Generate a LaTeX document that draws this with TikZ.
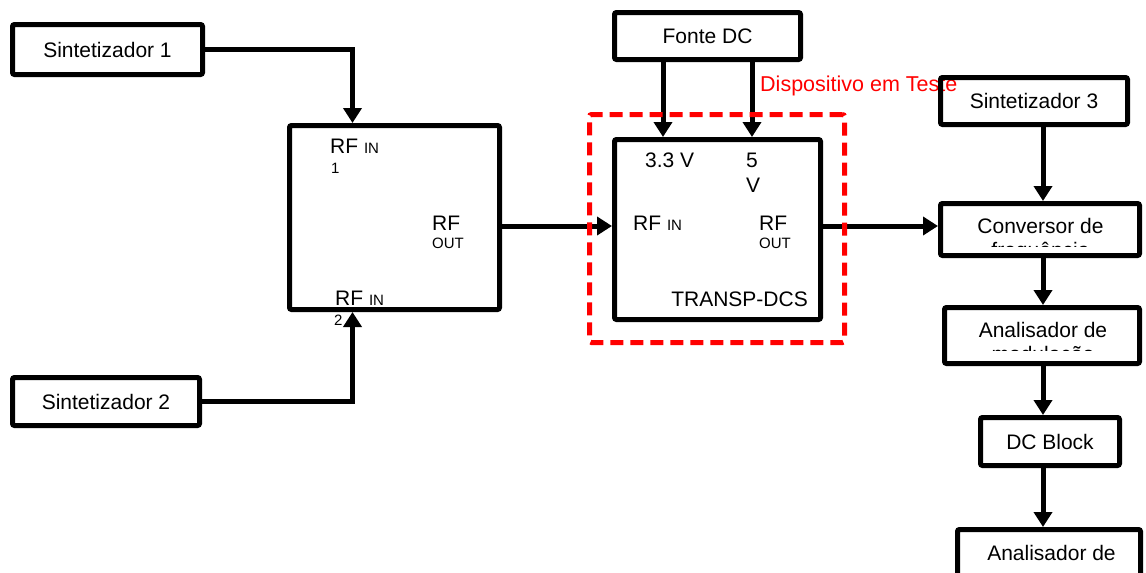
\documentclass[tikz,border=0pt]{standalone}
\usepackage{fontspec}
\setmainfont{Liberation Sans}
\definecolor{DutRed}{HTML}{FF0000}
\usetikzlibrary{arrows.meta, positioning, calc}
\tikzset{
  box/.style={draw=black, line width=5pt, rounded corners=2pt, inner sep=0pt, align=center, font=\fontsize{21}{24}\selectfont},
  lbl/.style={anchor=base west, inner sep=0pt, font=\fontsize{21}{24}\selectfont},
  sublbl/.style={lbl, font=\fontsize{15}{18}\selectfont},
  arr/.style={-{Triangle[length=15pt, width=18pt]}, line width=5pt, draw=black}
}
\newcommand{\subtxt}[1]{{\fontsize{15}{18}\selectfont #1}}

\begin{document}
\begin{tikzpicture}[x=1pt, y=-1pt,
  dutbox/.style={draw=DutRed, line width=5pt, dash pattern=on 13pt off 7pt, rounded corners=2pt, inner sep=0pt},
  dutlbl/.style={lbl, text=DutRed, font=\fontsize{21.5}{24}\selectfont}
]
\useasboundingbox (0,0) rectangle (1146,573);
\clip (0,0) rectangle (1146,573);

% sources and combiner
\node[box, minimum width=190pt, minimum height=50pt] (sint1) at (107.5,49.5) {Sintetizador 1};
\node[box, minimum width=187pt, minimum height=48pt] (sint2) at (106,401.5) {Sintetizador 2};
\node[box, minimum width=210pt, minimum height=184pt] (comb) at (394.5,217.5) {};
\node[lbl] (cin1) at (330,153) {RF \subtxt{IN}};
\node[sublbl] (cin1n) at (331,173) {1};
\node[lbl] (cout) at (432,230) {RF};
\node[sublbl] (coutn) at (432,248) {OUT};
\node[lbl] (cin2) at (335,305) {RF \subtxt{IN}};
\node[sublbl] (cin2n) at (334,325) {2};

% device under test
\node[box, minimum width=186pt, minimum height=47pt] (fonte) at (707.5,36) {Fonte DC};
\node[box, minimum width=206pt, minimum height=180pt] (dut) at (717.5,229.5) {};
\node[lbl] (v33l) at (645,167) {3.3 V};
\node[lbl] (v5l) at (746,167) {5};
\node[lbl] (v5u) at (746,192) {V};
\node[lbl] (din) at (633,230) {RF \subtxt{IN}};
\node[lbl] (dout) at (759,230) {RF};
\node[sublbl] (doutn) at (759,248) {OUT};
\node[lbl, anchor=base east] (dname) at (808,306) {TRANSP-DCS};
\node[dutlbl] (dutname) at (760,91) {Dispositivo em Teste};

% receive chain
\node[box, minimum width=187pt, minimum height=47pt] (sint3) at (1034,101) {Sintetizador 3};
\node[box, minimum width=199pt, minimum height=52pt] (conv) at (1040,229.5) {};
\node[box, minimum width=195pt, minimum height=56pt] (anmod) at (1042,335.5) {};
\node[box, minimum width=139pt, minimum height=48pt] (dcblk) at (1050,441.5) {DC Block};
\node[box, minimum width=183pt, minimum height=71pt] (anesp) at (1049,565) {};
\begin{scope}
  \clip (943,206) rectangle (1137,246);
  \node[lbl, anchor=base] (convt) at (1040.5,233) {Conversor de};
  \node[lbl, anchor=base] (convb) at (1040.5,257) {frequência};
\end{scope}
\begin{scope}
  \clip (947,310) rectangle (1137,350);
  \node[lbl, anchor=base] (anmodt) at (1043,337) {Analisador de};
  \node[lbl, anchor=base] (anmodb) at (1043,361) {modulação};
\end{scope}
\node[lbl, anchor=base] (anespt) at (1051.5,560) {Analisador de};

% connectors
\coordinate (cin) at (352.5,0);
\coordinate (rf) at (0,226);
\coordinate (v33) at (663,0);
\coordinate (v5) at (752,0);
\coordinate (col) at (1043,0);
\draw[arr] (sint1.east) -| (comb.north -| cin);
\draw[arr] (sint2.east) -| (comb.south -| cin);
\draw[arr] (comb.east |- rf) -- (dut.west |- rf);
\draw[arr] (fonte.south -| v33) -- (dut.north -| v33);
\draw[arr] (fonte.south -| v5) -- (dut.north -| v5);
\draw[arr] (dut.east |- rf) -- (conv.west |- rf);
\draw[arr] (sint3.south -| col) -- (conv.north -| col);
\draw[arr] (conv.south -| col) -- (anmod.north -| col);
\draw[arr] (anmod.south -| col) -- (dcblk.north -| col);
\draw[arr] (dcblk.south -| col) -- (anesp.north -| col);

\node[dutbox, minimum width=255pt, minimum height=228pt] (dutzone) at (717,228.5) {};
\end{tikzpicture}
\end{document}
